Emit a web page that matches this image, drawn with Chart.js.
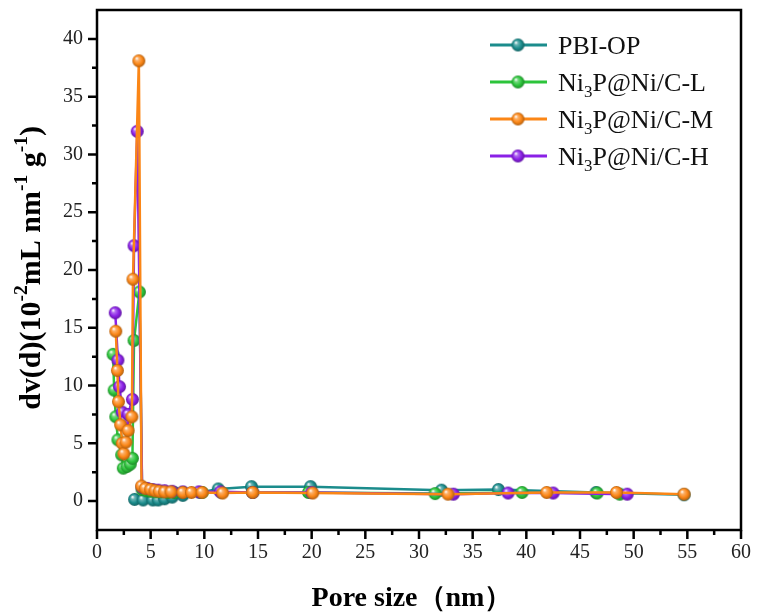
<!DOCTYPE html>
<html>
<head>
<meta charset="utf-8">
<script src="https://cdn.jsdelivr.net/npm/chart.js@4.4.1/dist/chart.umd.min.js"></script>
<style>
  body { margin: 0; background: #fff; }
  #wrap { width: 757px; height: 612px; }
</style>
</head>
<body>
<div id="wrap"><canvas id="poreChart" width="757" height="612"></canvas></div>
<script>
// BJH pore size distribution, four samples
const seriesNames = ['PBI-OP', 'Ni_3P@Ni/C-L', 'Ni_3P@Ni/C-M', 'Ni_3P@Ni/C-H'];
const seriesColors = ['#1b8c8c', '#2cc43b', '#fb8616', '#8a20e6'];

const pbiX = [3.5, 4.3, 5.2, 5.7, 6.3, 7.0, 8.0, 9.6, 11.3, 14.4, 19.9, 32.1, 37.4, 46.5, 54.7];
const pbiY = [0.15, 0.1, 0.1, 0.1, 0.2, 0.35, 0.5, 0.75, 1.05, 1.25, 1.25, 0.95, 1.0, 0.75, 0.55];

const lowX = [1.5, 1.6, 1.75, 1.95, 2.3, 2.45, 2.8, 3.1, 3.3, 3.45, 3.95, 4.2, 4.6, 5.0, 5.5, 6.0, 6.6, 7.2, 8.0, 9.8, 11.6, 14.5, 19.7, 31.5, 39.6, 46.6, 48.7];
const lowY = [12.7, 9.6, 7.3, 5.3, 4.0, 2.85, 3.0, 3.2, 3.7, 13.9, 18.1, 1.0, 0.9, 0.85, 0.8, 0.8, 0.75, 0.75, 0.75, 0.75, 0.75, 0.75, 0.75, 0.65, 0.75, 0.7, 0.6];

const midX = [1.75, 1.9, 2.0, 2.2, 2.35, 2.5, 2.7, 2.9, 3.25, 3.35, 3.9, 4.15, 4.5, 5.0, 5.4, 5.8, 6.3, 6.9, 8.0, 8.8, 9.8, 11.7, 14.5, 20.1, 32.7, 41.9, 48.4, 54.7];
const midY = [14.7, 11.3, 8.6, 6.6, 5.0, 4.1, 5.1, 6.1, 7.3, 19.2, 38.1, 1.3, 1.1, 1.0, 0.9, 0.85, 0.8, 0.8, 0.75, 0.75, 0.75, 0.7, 0.75, 0.7, 0.6, 0.75, 0.75, 0.6];

const highX = [1.7, 1.95, 2.1, 2.35, 2.6, 2.9, 3.3, 3.45, 3.75, 4.2, 4.7, 5.2, 5.7, 6.3, 7.0, 8.0, 9.5, 11.5, 14.5, 20.0, 33.2, 38.3, 42.5, 49.4];
const highY = [16.3, 12.2, 9.9, 7.7, 6.9, 7.5, 8.8, 22.1, 32.0, 1.2, 1.1, 1.0, 0.95, 0.9, 0.85, 0.8, 0.8, 0.8, 0.75, 0.75, 0.6, 0.7, 0.7, 0.6];

const xTickLabels = ['0', '5', '10', '15', '20', '25', '30', '35', '40', '45', '50', '55', '60'];
const yTickLabels = ['0', '5', '10', '15', '20', '25', '30', '35', '40'];

const seriesX = [pbiX, lowX, midX, highX];
const seriesY = [pbiY, lowY, midY, highY];
// orange drawn on top, teal at the bottom
const drawOrder = [3, 2, 0, 1];

const SERIF = '"Liberation Serif", "Times New Roman", serif';

function shade(hex, amt) {
  const n = parseInt(hex.slice(1), 16);
  let r = n >> 16, g = (n >> 8) & 255, b = n & 255;
  const t = amt < 0 ? 0 : 255, p = Math.abs(amt);
  r = Math.round(r + (t - r) * p);
  g = Math.round(g + (t - g) * p);
  b = Math.round(b + (t - b) * p);
  return `rgb(${r},${g},${b})`;
}

// shiny ball marker
function makeBall(color, r) {
  const c = document.createElement('canvas');
  const s = Math.ceil(r * 2 + 2);
  c.width = s; c.height = s;
  const g = c.getContext('2d');
  const cx = s / 2, cy = s / 2;
  const grad = g.createRadialGradient(cx - r * 0.35, cy - r * 0.4, r * 0.05, cx, cy, r);
  grad.addColorStop(0, '#ffffff');
  grad.addColorStop(0.25, shade(color, 0.35));
  grad.addColorStop(0.65, color);
  grad.addColorStop(1, shade(color, -0.3));
  g.fillStyle = grad;
  g.beginPath();
  g.arc(cx, cy, r, 0, Math.PI * 2);
  g.fill();
  return c;
}

const balls = seriesColors.map(c => makeBall(c, 6.5));

// text with _x subscripts and ^{..} superscripts
function parseRich(str) {
  const parts = [];
  const re = /([_^])(\{[^}]*\}|.)/g;
  let last = 0, m;
  while ((m = re.exec(str)) !== null) {
    if (m.index > last) parts.push({ t: str.slice(last, m.index), k: 0 });
    let t = m[2];
    if (t[0] === '{') t = t.slice(1, -1);
    parts.push({ t, k: m[1] === '_' ? 1 : -1 });
    last = re.lastIndex;
  }
  if (last < str.length) parts.push({ t: str.slice(last), k: 0 });
  return parts;
}

function drawRich(ctx, str, x, y, size, weight, align) {
  const parts = parseRich(str);
  const small = size * 0.65;
  const fontOf = p => `${weight} ${p.k ? small : size}px ${SERIF}`;
  let total = 0;
  parts.forEach(p => { ctx.font = fontOf(p); p.w = ctx.measureText(p.t).width; total += p.w; });
  let cx = align === 'center' ? x - total / 2 : x;
  ctx.textAlign = 'left';
  ctx.textBaseline = 'alphabetic';
  parts.forEach(p => {
    ctx.font = fontOf(p);
    const dy = p.k === 1 ? size * 0.22 : p.k === -1 ? -size * 0.42 : 0;
    ctx.fillText(p.t, cx, y + dy);
    cx += p.w;
  });
}

const framePlugin = {
  id: 'frame',
  afterDraw(chart) {
    const { ctx, chartArea: a, scales } = chart;
    ctx.save();
    ctx.strokeStyle = '#000';
    ctx.lineWidth = 2.5;
    ctx.strokeRect(a.left, a.top, a.right - a.left, a.bottom - a.top);

    // outward ticks, long on labelled values
    ctx.lineWidth = 2.5;
    ctx.beginPath();
    scales.x.ticks.forEach(t => {
      const px = scales.x.getPixelForValue(t.value);
      const len = t.value % 5 === 0 ? 9 : 5;
      ctx.moveTo(px, a.bottom);
      ctx.lineTo(px, a.bottom + len);
    });
    scales.y.ticks.forEach(t => {
      if (t.value <= scales.y.min || t.value >= scales.y.max) return;
      const py = scales.y.getPixelForValue(t.value);
      const len = t.value % 5 === 0 ? 9 : 5;
      ctx.moveTo(a.left, py);
      ctx.lineTo(a.left - len, py);
    });
    ctx.stroke();

    // axis titles
    ctx.fillStyle = '#000';
    ctx.font = `bold 28px ${SERIF}`;
    ctx.textAlign = 'center';
    ctx.textBaseline = 'alphabetic';
    ctx.fillText('Pore size（nm）', 412, 606);

    ctx.save();
    ctx.translate(40, 268);
    ctx.rotate(-Math.PI / 2);
    drawRich(ctx, 'dv(d)(10^{-2}mL nm^{-1} g^{-1})', 0, 0, 30, 'bold', 'center');
    ctx.restore();

    // legend
    seriesNames.forEach((name, i) => {
      const y = 45 + i * 37;
      ctx.strokeStyle = seriesColors[i];
      ctx.lineWidth = 3;
      ctx.beginPath();
      ctx.moveTo(490, y);
      ctx.lineTo(547, y);
      ctx.stroke();
      const b = balls[i];
      ctx.drawImage(b, 518 - b.width / 2, y - b.height / 2);
      ctx.fillStyle = '#111';
      drawRich(ctx, name, 558, y + 9, 26, 'normal', 'left');
    });
    ctx.restore();
  }
};

const datasets = seriesNames.map((name, i) => ({
  label: name,
  data: seriesX[i].map((x, j) => ({ x, y: seriesY[i][j] })),
  showLine: true,
  borderColor: seriesColors[i],
  backgroundColor: seriesColors[i],
  borderWidth: 2.5,
  pointStyle: balls[i],
  pointRadius: 6,
  tension: 0,
  order: drawOrder[i]
}));

const tickFont = { family: SERIF, size: 20 };

function noPadding(s) {
  s.paddingTop = 0;
  s.paddingBottom = 0;
  s.paddingLeft = 0;
  s.paddingRight = 0;
}

new Chart(document.getElementById('poreChart'), {
  type: 'scatter',
  data: { datasets },
  options: {
    responsive: false,
    animation: false,
    events: [],
    layout: { padding: { top: 10, right: 16, left: 0, bottom: 0 } },
    plugins: { legend: { display: false }, tooltip: { enabled: false } },
    scales: {
      x: {
        type: 'linear',
        min: 0,
        max: 60,
        ticks: {
          stepSize: 2.5,
          autoSkip: false,
          maxRotation: 0,
          padding: 11,
          color: '#222',
          font: tickFont,
          callback: v => (v % 5 === 0 ? xTickLabels[v / 5] : '')
        },
        grid: { display: false, drawTicks: false },
        border: { display: false },
        afterFit: s => { s.height = 82; noPadding(s); }
      },
      y: {
        type: 'linear',
        min: -2.5,
        max: 42.5,
        ticks: {
          stepSize: 2.5,
          autoSkip: false,
          padding: 14,
          color: '#222',
          font: tickFont,
          callback: v => (v >= 0 && v % 5 === 0 ? yTickLabels[v / 5] : '')
        },
        grid: { display: false, drawTicks: false },
        border: { display: false },
        afterFit: s => { s.width = 97; noPadding(s); }
      }
    }
  },
  plugins: [framePlugin]
});
</script>
</body>
</html>
